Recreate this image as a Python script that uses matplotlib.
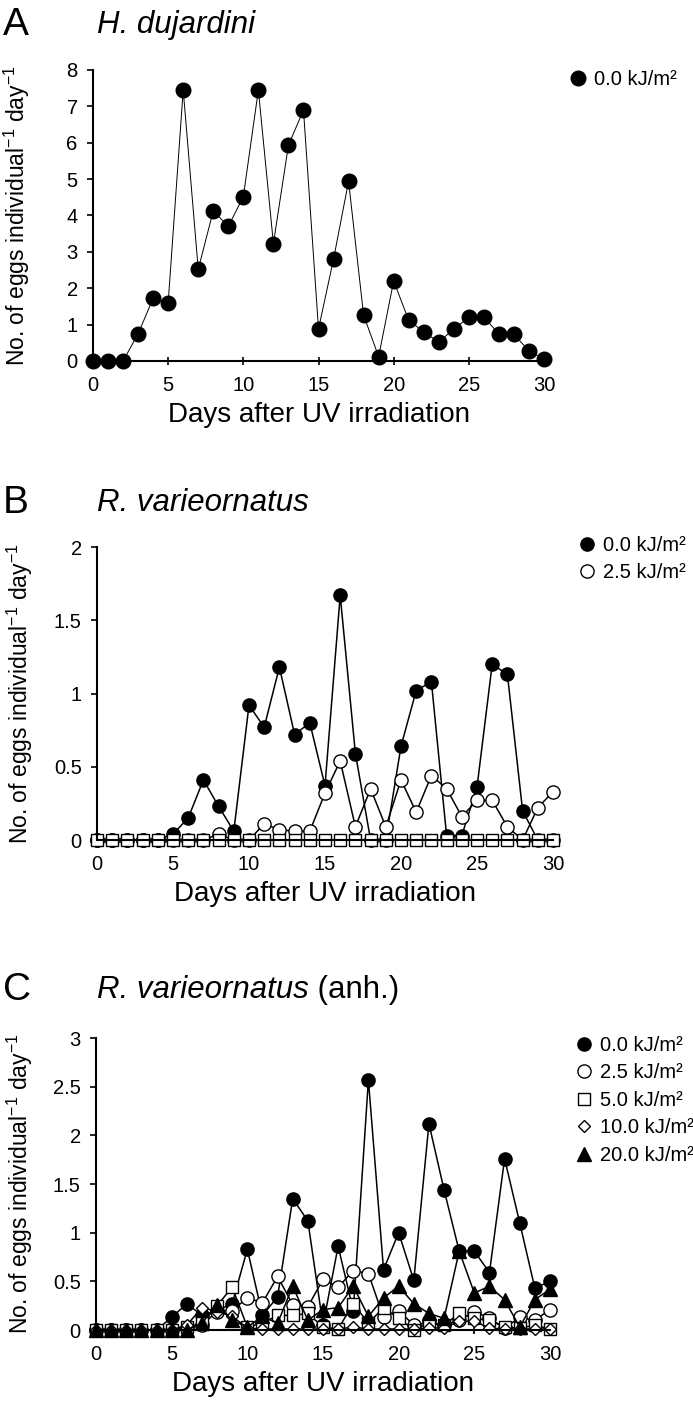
import numpy as np
import matplotlib
matplotlib.use("Agg")
import matplotlib.pyplot as plt

plt.rcParams['font.family'] = ['Liberation Sans', 'DejaVu Sans']
plt.rcParams['mathtext.fontset'] = 'custom'
plt.rcParams['mathtext.rm'] = 'Liberation Sans'

days = np.arange(0, 31)

# Panel A - H. dujardini, 0.0 kJ/m2
a_00 = [0, 0, 0, 0.75, 1.72, 1.6, 7.45, 2.52, 4.13, 3.7, 4.52, 7.45, 3.23, 5.93, 6.9,
        0.88, 2.8, 4.94, 1.26, 0.12, 2.2, 1.12, 0.8, 0.52, 0.88, 1.2, 1.2, 0.75, 0.73,
        0.28, 0.05]

# Panel B - R. varieornatus
b_00 = [0, 0, 0, 0, 0, 0.04, 0.15, 0.41, 0.23, 0.06, 0.92, 0.77, 1.18, 0.72, 0.80,
        0.37, 1.67, 0.59, 0, 0, 0.64, 1.02, 1.08, 0.03, 0.03, 0.36, 1.20, 1.13, 0.20,
        0, 0]
b_25 = [0, 0, 0, 0, 0, 0, 0, 0, 0.04, 0, 0, 0.11, 0.07, 0.06, 0.06, 0.32, 0.54,
        0.09, 0.35, 0.09, 0.41, 0.19, 0.44, 0.35, 0.16, 0.27, 0.27, 0.09, 0, 0.22,
        0.33]
b_zero = [0] * 31

# Panel C - R. varieornatus (anhydrobiotic)
c_00 = [0, 0, 0, 0, 0, 0.13, 0.27, 0.15, 0.20, 0.27, 0.83, 0.15, 0.34, 1.35, 1.12,
        0.05, 0.86, 0.20, 2.57, 0.62, 1.00, 0.51, 2.12, 1.44, 0.81, 0.81, 0.59, 1.76,
        1.10, 0.43, 0.50]
c_25 = [0, 0, 0, 0, 0, 0, 0.02, 0.05, 0.19, 0.20, 0.33, 0.28, 0.55, 0.26, 0.24, 0.52,
        0.44, 0.61, 0.58, 0.13, 0.20, 0.05, 0.08, 0.05, 0.10, 0.19, 0.12, 0.02, 0.13,
        0.10, 0.21]
c_50 = [0, 0, 0, 0, 0, 0, 0.03, 0.07, 0.25, 0.44, 0.03, 0.07, 0.15, 0.15, 0.17, 0.03,
        0.01, 0.27, 0.07, 0.23, 0.12, 0, 0.07, 0.05, 0.17, 0.12, 0.10, 0.03, 0.02,
        0.05, 0.01]
c_100 = [0, 0, 0, 0, 0, 0, 0.05, 0.23, 0.19, 0.14, 0.02, 0.01, 0.01, 0.01, 0.01,
         0.01, 0.01, 0.03, 0.01, 0.01, 0.01, 0.01, 0.02, 0.02, 0.09, 0.09, 0.02, 0.01,
         0.01, 0.01, 0.01]
c_200 = [0, 0, 0, 0, 0, 0, 0, 0.07, 0.26, 0.10, 0.03, 0.14, 0.07, 0.45, 0.10, 0.21,
         0.23, 0.45, 0.14, 0.33, 0.45, 0.27, 0.17, 0.12, 0.81, 0.38, 0.45, 0.31, 0.03,
         0.31, 0.42]

fig = plt.figure(figsize=(6.93, 14.17), dpi=100)
W, H = 693, 1417


def make_axes(x0, x1, ytop, ybot):
    return fig.add_axes([x0 / W, 1 - ybot / H, (x1 - x0) / W, (ybot - ytop) / H])


def style(ax, ymax, ystep):
    ax.set_xlim(0, 30)
    ax.set_ylim(0, ymax)
    ax.set_xticks(range(0, 31, 5))
    yt = np.arange(0, ymax + 1e-9, ystep)
    ax.set_yticks(yt)
    ax.set_yticklabels(['%g' % v for v in yt])
    for s in ['top', 'right']:
        ax.spines[s].set_visible(False)
    for s in ['left', 'bottom']:
        ax.spines[s].set_linewidth(1.5)
    ax.tick_params(axis='x', direction='inout', length=6, width=1.2, pad=8, labelsize=14.5)
    ax.tick_params(axis='y', direction='out', length=4, width=1.2, pad=7, labelsize=14.5)
    ax.set_xlabel('Days after UV irradiation', fontsize=20)
    ax.xaxis.set_label_coords(0.5, -0.14)
    ax.set_ylabel(r'No. of eggs individual$^{\mathregular{-1}}$ day$^{\mathregular{-1}}$', fontsize=16.5)
    ax.yaxis.set_label_coords(-0.135, 0.5)


def legend(ax, ytop):
    # ytop: figure pixel of the first legend row's top
    y0 = ax.get_position().y1 * H
    y1 = ax.get_position().y0 * H
    frac = (H - ytop - y1) / (y0 - y1)
    leg = ax.legend(loc='upper left', bbox_to_anchor=(1.055, frac), frameon=False,
                    fontsize=14.5, handlelength=0.9, handletextpad=0.35,
                    labelspacing=0.42, borderaxespad=0, borderpad=0)
    for h in leg.legend_handles:
        h.set_linestyle('none')


lab = ['0.0 kJ/m\u00b2', '2.5 kJ/m\u00b2', '5.0 kJ/m\u00b2', '10.0 kJ/m\u00b2', '20.0 kJ/m\u00b2']

# ---- A ----
axA = make_axes(93, 544, 70, 361)
axA.plot(days, a_00, '-o', color='black', lw=0.7, ms=10.5, mfc='black', mec='black',
         clip_on=False, label=lab[0])
style(axA, 8, 1)
legend(axA, 70)

# ---- B ----
axB = make_axes(97, 553, 547, 840)
axB.plot(days, b_00, '-o', color='black', lw=1.1, ms=9.5, mfc='black', mec='black',
         clip_on=False, label=lab[0])
axB.plot(days, b_25, '-o', color='black', lw=1.1, ms=9.5, mfc='white', mec='black',
         mew=1.0, clip_on=False, label=lab[1])
axB.plot(days, b_zero, '-s', color='black', lw=1.1, ms=9, mfc='white', mec='black',
         mew=1.0, clip_on=False)
style(axB, 2, 0.5)
legend(axB, 536)

# ---- C ----
axC = make_axes(96, 550, 1038, 1330)
kw = dict(color='black', lw=1.1, mec='black', mew=1.0, clip_on=False)
axC.plot(days, c_00, '-o', ms=9.5, mfc='black', label=lab[0], **kw)
axC.plot(days, c_25, '-o', ms=9.5, mfc='white', label=lab[1], **kw)
axC.plot(days, c_50, '-s', ms=8.5, mfc='white', label=lab[2], **kw)
axC.plot(days, c_100, '-D', ms=6.5, mfc='white', label=lab[3], **kw)
axC.plot(days, c_200, '-^', ms=9.5, mfc='black', label=lab[4], **kw)
style(axC, 3, 0.5)
legend(axC, 1036)

# panel letters and titles
fig.canvas.draw()
rend = fig.canvas.get_renderer()
for letter, ypix, sp, extra in [('A', 25, 'H. dujardini', None),
                                ('B', 503, 'R. varieornatus', None),
                                ('C', 990, 'R. varieornatus', ' (anh.)')]:
    fig.text(3 / W, 1 - ypix / H, letter, fontsize=28, va='center', ha='left')
    t = fig.text(97 / W, 1 - ypix / H, sp, fontsize=22.5, style='italic', va='center', ha='left')
    if extra:
        bb = t.get_window_extent(rend)
        fig.text(bb.x1 / W, 1 - ypix / H, extra, fontsize=22.5, va='center', ha='left')

fig.savefig('out.png', dpi=100)
